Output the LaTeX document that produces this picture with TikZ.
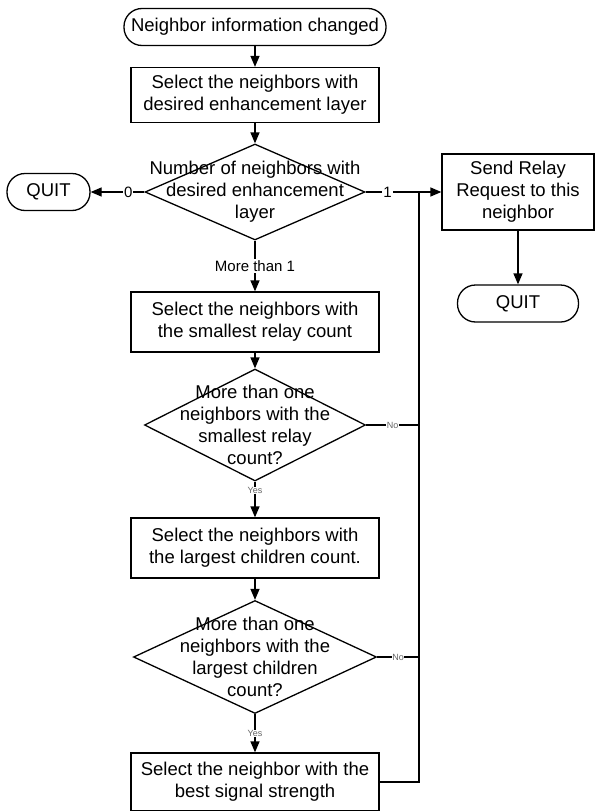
\documentclass[tikz,border=0pt]{standalone}
\usepackage{fontspec}
\setmainfont{Liberation Sans}
\usetikzlibrary{shapes.geometric,positioning,arrows.meta}

\tikzset{
 terminal/.style={draw,rounded corners=18pt,minimum height=37pt,align=center},
 process/.style={draw,rectangle,minimum width=248pt,minimum height=58pt,align=center},
 decision/.style={draw,diamond,inner sep=0pt},
 dtext/.style={align=center},
 lbl/.style={fill=white,inner sep=1pt,font=\fontsize{15}{16}\selectfont},
 tiny/.style={fill=white,inner sep=0.5pt,text=black!60,font=\fontsize{9}{10}\selectfont}
}

\begin{document}
\begin{tikzpicture}[x=1pt,y=-1pt,on grid,auto,line width=1.3pt,
 >={Triangle[length=11pt,width=9pt]},
 font=\fontsize{18.5}{22}\selectfont]
 \useasboundingbox (0,0) rectangle (595,811);
 % main column
 \node[terminal,minimum width=262pt] (start) at (255,27) {Neighbor information changed};
 \node[process,minimum height=55pt] (sel_layer)[below=68pt of start] {Select the neighbors with\\desired enhancement layer};
 \node[decision,minimum width=220pt,minimum height=96pt] (num_nb)[below=97pt of sel_layer]
  {};
 \node[dtext] (num_nb_t) at (num_nb) {Number of neighbors with\\desired enhancement\\layer};
 \node[process,minimum height=60pt] (sel_relay)[below=130pt of num_nb] {Select the neighbors with\\the smallest relay count};
 \node[decision,minimum width=221pt,minimum height=112pt] (more_relay)[below=103pt of sel_relay] {};
 \node[dtext] (more_relay_t) at (more_relay) {More than one\\neighbors with the\\smallest relay\\count?};
 \node[process,minimum height=60pt] (sel_child)[below=123pt of more_relay] {Select the neighbors with\\the largest children count.};
 \node[decision,minimum width=243pt,minimum height=113pt] (more_child)[below=109pt of sel_child] {};
 \node[dtext] (more_child_t) at (more_child) {More than one\\neighbors with the\\largest children\\count?};
 \node[process] (sel_signal)[below=125pt of more_child] {Select the neighbor with the\\best signal strength};
 % side nodes
 \node[terminal,minimum width=83pt] (quit_a)[left=206.5pt of num_nb] {QUIT};
 \node[process,minimum width=152pt,minimum height=76pt] (send)[right=263pt of num_nb] {Send Relay\\Request to this\\neighbor};
 \node[terminal,minimum width=121pt] (quit_b)[below=111.5pt of send] {QUIT};
 \coordinate (join) at (419,192);

 \path[->]
 (start) edge (sel_layer)
 (sel_layer) edge (num_nb)
 (num_nb) edge node[lbl,pos=0.5,anchor=center]{More than 1} (sel_relay)
 (sel_relay) edge (more_relay)
 (more_relay) edge node[tiny,pos=0.25,anchor=center]{Yes} (sel_child)
 (sel_child) edge (more_child)
 (more_child) edge node[tiny,pos=0.5,anchor=center]{Yes} (sel_signal)
 (num_nb) edge node[lbl,pos=0.3,anchor=center]{0} (quit_a)
 (num_nb) edge node[lbl,pos=0.29,anchor=center]{1} (send)
 (send) edge (quit_b);
 \draw (sel_signal.east) -| (join);
 \draw (more_relay.east) -- node[tiny,pos=0.5,anchor=center]{No} (more_relay.east -| join);
 \draw (more_child.east) -- node[tiny,pos=0.5,anchor=center]{No} (more_child.east -| join);
\end{tikzpicture}
\end{document}
